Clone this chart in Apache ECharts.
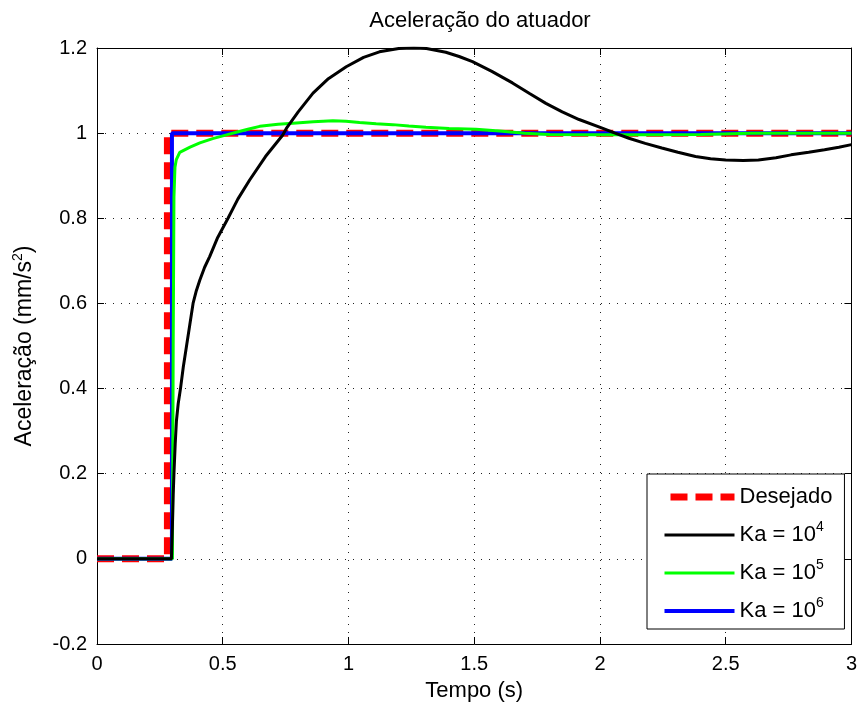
<!DOCTYPE html>
<html>
<head>
<meta charset="utf-8">
<title>Aceleração do atuador</title>
<script src="https://cdn.jsdelivr.net/npm/echarts@6/dist/echarts.min.js"></script>
<style>
  html, body { margin: 0; padding: 0; background: #fff; }
  #chart { width: 860px; height: 711px; }
</style>
</head>
<body>
<div id="chart"></div>
<script>
// Reference acceleration (desired step), [time s, acceleration mm/s^2]
const desejado = [[0, 0], [0.28, 0], [0.28, 1], [3, 1]];

// Actuator response for Ka = 10^4
const ka1e4 = [
  [0, 0], [0.296, 0], [0.300, 0.08], [0.303, 0.15], [0.306, 0.2], [0.311, 0.27],
  [0.316, 0.325], [0.323, 0.365], [0.332, 0.4], [0.343, 0.45], [0.356, 0.5],
  [0.369, 0.55], [0.382, 0.6], [0.395, 0.63], [0.409, 0.655], [0.428, 0.685],
  [0.448, 0.71], [0.48, 0.755], [0.521, 0.8], [0.56, 0.845], [0.607, 0.89],
  [0.67, 0.945], [0.738, 0.995], [0.753, 1.011], [0.80, 1.05], [0.859, 1.094],
  [0.92, 1.128], [0.991, 1.156], [1.06, 1.178], [1.123, 1.191], [1.2, 1.199],
  [1.26, 1.2], [1.31, 1.199], [1.387, 1.19], [1.44, 1.18], [1.493, 1.168],
  [1.57, 1.145], [1.652, 1.118], [1.72, 1.093], [1.785, 1.07], [1.85, 1.05],
  [1.917, 1.032], [2.009, 1.012], [2.06, 1.0], [2.115, 0.988], [2.18, 0.976],
  [2.246, 0.965], [2.31, 0.955], [2.38, 0.945], [2.44, 0.94], [2.50, 0.937],
  [2.57, 0.936], [2.63, 0.937], [2.70, 0.942], [2.76, 0.949], [2.83, 0.955],
  [2.893, 0.961], [2.95, 0.967], [3.0, 0.973]
];

// Actuator response for Ka = 10^5
const ka1e5 = [
  [0, 0], [0.300, 0], [0.303, 0.5], [0.306, 0.85], [0.31, 0.92], [0.315, 0.937],
  [0.329, 0.955], [0.336, 0.958], [0.37, 0.967], [0.409, 0.977], [0.46, 0.987],
  [0.515, 0.996], [0.554, 1.002], [0.6, 1.009], [0.647, 1.016], [0.72, 1.021],
  [0.779, 1.023], [0.86, 1.027], [0.938, 1.029], [0.99, 1.028], [1.044, 1.025],
  [1.11, 1.022], [1.176, 1.02], [1.24, 1.017], [1.308, 1.014], [1.4, 1.011],
  [1.507, 1.009], [1.6, 1.005], [1.7, 1.0], [1.8, 0.997], [2.0, 0.996],
  [2.2, 0.996], [2.4, 0.997], [2.6, 1.0], [3.0, 1.0]
];

// Actuator response for Ka = 10^6
const ka1e6 = [[0, 0], [0.298, 0], [0.298, 1], [3, 1]];

// Legend labels ("^n" is drawn as a superscript)
const seriesNames = ['Desejado', 'Ka = 10^4', 'Ka = 10^5', 'Ka = 10^6'];

const FONT = '"Liberation Sans", Arial, Helvetica, sans-serif';
const supStyle = { fontSize: 14, lineHeight: 14, verticalAlign: 'top', fontFamily: FONT, color: '#000' };

// Line styles shared by each series and its legend sample
const styles = [
  { color: '#ff0000', width: 7, type: [17, 8], cap: 'butt', join: 'miter' },
  { color: '#000000', width: 3 },
  { color: '#00ff00', width: 3 },
  { color: '#0000ff', width: 4 }
];
const datasets = [desejado, ka1e4, ka1e5, ka1e6];
const zOrder = [2, 6, 5, 4];

const chart = echarts.init(document.getElementById('chart'), null, { renderer: 'canvas' });

const frameAxis = {
  axisLine: { show: true, onZero: false, lineStyle: { color: '#000', width: 1 } },
  axisTick: { show: true, inside: true, length: 7, lineStyle: { color: '#000' } },
  axisLabel: { show: false },
  splitLine: { show: false }
};

chart.setOption({
  animation: false,
  backgroundColor: '#fff',
  title: {
    text: 'Aceleração do atuador',
    left: 475, top: 5, textAlign: 'center',
    textStyle: { fontFamily: FONT, fontSize: 22, fontWeight: 'normal', color: '#000' }
  },
  grid: { left: 97, right: 7, top: 48, bottom: 67, containLabel: false },
  xAxis: [
    {
      type: 'value', position: 'bottom', min: 0, max: 3, interval: 0.5,
      name: 'Tempo (s)', nameLocation: 'middle', nameGap: 36,
      nameTextStyle: { fontFamily: FONT, fontSize: 22, color: '#000' },
      axisLine: { show: true, onZero: false, lineStyle: { color: '#000', width: 1 } },
      axisTick: { show: true, inside: true, length: 7, lineStyle: { color: '#000' } },
      axisLabel: { color: '#000', fontFamily: FONT, fontSize: 20, margin: 10 },
      splitLine: { show: true, lineStyle: { color: '#222', width: 1, type: [1, 7] } }
    },
    Object.assign({ type: 'value', position: 'top', min: 0, max: 3, interval: 0.5 }, frameAxis)
  ],
  yAxis: [
    {
      type: 'value', position: 'left', min: -0.2, max: 1.2, interval: 0.2,
      name: 'Aceleração (mm/s{sup|2})', nameLocation: 'middle', nameGap: 58,
      nameTextStyle: {
        fontFamily: FONT, fontSize: 23, color: '#000', lineHeight: 28,
        rich: { sup: supStyle }
      },
      axisLine: { show: true, onZero: false, lineStyle: { color: '#000', width: 1 } },
      axisTick: { show: true, inside: true, length: 7, lineStyle: { color: '#000' } },
      axisLabel: { color: '#000', fontFamily: FONT, fontSize: 20, margin: 10 },
      splitLine: { show: true, lineStyle: { color: '#222', width: 1, type: [1, 7] } }
    },
    Object.assign({ type: 'value', position: 'right', min: -0.2, max: 1.2, interval: 0.2 }, frameAxis)
  ],
  legend: {
    orient: 'vertical',
    left: 647, top: 474,
    backgroundColor: '#fff', borderColor: '#000', borderWidth: 1, borderRadius: 0,
    padding: [8, 12, 3, 14],
    itemWidth: 70, itemHeight: 20, itemGap: 8,
    selectedMode: false,
    itemStyle: { color: 'transparent', borderWidth: 0, opacity: 0 },
    data: seriesNames.map((name, i) => ({
      name,
      lineStyle: Object.assign({}, styles[i], i === 0 ? { dashOffset: 19 } : {})
    })),
    formatter: name => name.replace(/\^(\d+)/, '{sup|$1}'),
    textStyle: {
      fontFamily: FONT, fontSize: 22, color: '#000', lineHeight: 30,
      rich: { sup: supStyle }
    }
  },
  series: seriesNames.map((name, i) => ({
    name, type: 'line', data: datasets[i], symbol: 'none', z: zOrder[i],
    xAxisIndex: 0, yAxisIndex: 0, clip: true,
    lineStyle: styles[i],
    itemStyle: { color: styles[i].color }
  }))
});
</script>
</body>
</html>
